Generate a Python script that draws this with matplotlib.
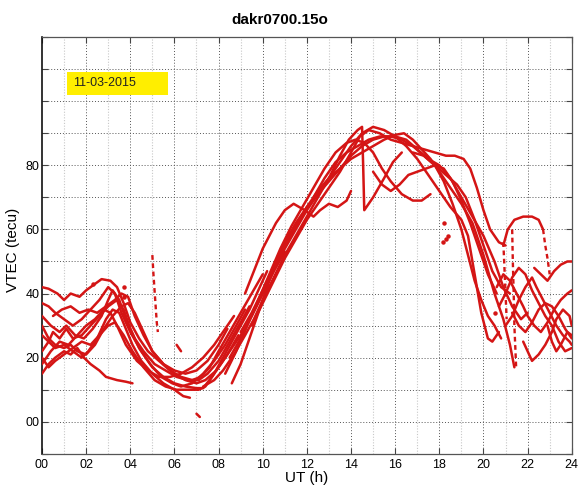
import matplotlib
matplotlib.use("Agg")
import matplotlib.pyplot as plt
from matplotlib.patches import Rectangle

plt.rcParams['font.family'] = ['Liberation Sans', 'DejaVu Sans']

# Station file and observation date
station_file = "dakr0700.15o"
obs_date = "11-03-2015"

# x / y tick labels
hour_ticks = list(range(0, 25, 2))
hour_labels = ["%02d" % h for h in hour_ticks]
tec_ticks = [0, 20, 40, 60, 80]
tec_labels = ["00", "20", "40", "60", "80"]

# VTEC arcs per satellite pass: (UT hour, VTEC in TECU)
arc_night_a = [(0, 42), (0.3, 41.5), (0.7, 40), (1.0, 38), (1.3, 40), (1.7, 39), (2.0, 41), (2.4, 43),
               (2.7, 44.5), (3.1, 44), (3.4, 42), (3.7, 37), (4.0, 31), (4.4, 26), (4.8, 22), (5.3, 19),
               (5.8, 16), (6.3, 14), (6.8, 13), (7.2, 14), (7.6, 17), (8.0, 22), (8.5, 28), (9.0, 34),
               (9.5, 40), (10.0, 46)]
arc_night_b = [(0, 37), (0.3, 36), (0.6, 34), (1.0, 32), (1.4, 30), (1.8, 32), (2.2, 35), (2.6, 38),
               (3.0, 42), (3.3, 40), (3.6, 34), (4.0, 28), (4.5, 22), (5.0, 17), (5.5, 14), (6.0, 12),
               (6.5, 11), (7.0, 10.5), (7.3, 10.5), (7.7, 14), (8.1, 18), (8.6, 23), (9.0, 27), (9.5, 33),
               (10.0, 40), (10.5, 47), (11.0, 53)]
arc_night_c = [(0, 33), (0.4, 30), (0.8, 28), (1.1, 30), (1.5, 27), (1.9, 26), (2.3, 29), (2.7, 33),
               (3.0, 38), (3.2, 41), (3.5, 38), (3.8, 32), (4.2, 26), (4.6, 22), (5.1, 18), (5.6, 16),
               (6.1, 14), (6.6, 13), (7.1, 13), (7.5, 15), (8.0, 19), (8.5, 25), (9.0, 31), (9.4, 36)]
arc_night_d = [(0, 27), (0.3, 25), (0.5, 28), (0.8, 26), (1.1, 29), (1.4, 26), (1.8, 27), (2.2, 30),
               (2.6, 33), (3.0, 36), (3.4, 38), (3.7, 35), (4.0, 29), (4.4, 23), (4.9, 18), (5.4, 14),
               (5.9, 12), (6.3, 11), (6.8, 12), (7.3, 15), (7.8, 19), (8.3, 24), (8.8, 30), (9.2, 35)]
arc_night_e = [(0, 22), (0.3, 25), (0.6, 23), (1.0, 24), (1.4, 22), (1.8, 20), (2.1, 22), (2.5, 26),
               (2.9, 32), (3.2, 35), (3.5, 34), (3.8, 29), (4.1, 24), (4.5, 19), (5.0, 15), (5.5, 12),
               (6.0, 10), (6.4, 8), (6.7, 7.5)]
arc_night_f = [(0, 18), (0.4, 22), (0.8, 25), (1.2, 24), (1.6, 27), (2.0, 30), (2.4, 32), (2.8, 35),
               (3.1, 34), (3.4, 30), (3.8, 24), (4.3, 19), (4.8, 16), (5.3, 14), (5.8, 14), (6.3, 15),
               (6.8, 17), (7.3, 20), (7.8, 24), (8.3, 29), (8.7, 33)]
arc_night_g = [(0, 15), (0.3, 18), (0.6, 20), (1.0, 22), (1.3, 21), (1.6, 23), (1.9, 20), (2.2, 18),
               (2.6, 16), (2.9, 14), (3.4, 13), (3.8, 12.5), (4.1, 12)]
arc_night_h = [(0, 30), (0.3, 26), (0.6, 24), (1.0, 23), (1.3, 24), (1.6, 22), (2.0, 21), (2.4, 24),
               (2.8, 29), (3.2, 33), (3.6, 36), (3.9, 37), (4.2, 34), (4.6, 28), (5.0, 22), (5.5, 18),
               (6.0, 15), (6.5, 13), (7.0, 12), (7.4, 13), (7.9, 16), (8.4, 21), (8.9, 27)]
arc_night_i = [(0.5, 33), (0.9, 35), (1.3, 36), (1.7, 34), (2.1, 35), (2.5, 34), (2.9, 36), (3.3, 38),
               (3.6, 40), (3.9, 39), (4.2, 33), (4.6, 27), (5.0, 22), (5.5, 18), (6.0, 16), (6.5, 15),
               (7.0, 16), (7.5, 19), (8.0, 24), (8.4, 29)]
arc_night_j = [(0, 20), (0.3, 17), (0.6, 19), (1.0, 21), (1.4, 23), (1.8, 25), (2.2, 24), (2.6, 27),
               (3.0, 30), (3.3, 31), (3.7, 27), (4.1, 22), (4.6, 17), (5.1, 13), (5.6, 11), (6.1, 10),
               (6.6, 10), (7.1, 10), (7.4, 11), (7.8, 15), (8.2, 20), (8.6, 25), (9.0, 30), (9.4, 35),
               (9.8, 41), (10.2, 47)]

arc_day_a = [(8.3, 15), (8.8, 22), (9.3, 30), (9.8, 38), (10.3, 46), (10.8, 54), (11.3, 61), (11.8, 67),
             (12.3, 73), (12.8, 79), (13.3, 84), (13.8, 87), (14.2, 88), (14.6, 87), (15.0, 84), (15.4, 79),
             (15.8, 75), (16.3, 71), (16.8, 69), (17.2, 69), (17.6, 71)]
arc_day_b = [(7.3, 11), (7.8, 13), (8.2, 16), (8.7, 21), (9.2, 27), (9.6, 32), (10.0, 38), (10.5, 45),
             (11.0, 52), (11.5, 58), (12.0, 64), (12.5, 70), (13.0, 76), (13.5, 83), (13.9, 88), (14.3, 91),
             (14.5, 92), (14.55, 80), (14.6, 66), (15.0, 70), (15.5, 76), (15.9, 81), (16.3, 84)]
arc_day_c = [(8.5, 20), (9.0, 26), (9.5, 33), (10.0, 40), (10.5, 47), (11.0, 54), (11.5, 60), (12.0, 66),
             (12.5, 71), (13.0, 76), (13.5, 81), (14.0, 86), (14.5, 90), (15.0, 92), (15.5, 91), (16.0, 89),
             (16.5, 86), (17.0, 82), (17.5, 77), (18.0, 72), (18.5, 67), (19.0, 63), (19.3, 58), (19.6, 46),
             (19.9, 34), (20.2, 26), (20.4, 25), (20.7, 28)]
arc_day_d = [(9.0, 28), (9.5, 34), (10.0, 41), (10.5, 48), (11.0, 55), (11.5, 61), (12.0, 67), (12.5, 72),
             (13.0, 76), (13.5, 79), (14.0, 82), (14.5, 84), (15.0, 86), (15.5, 88), (16.0, 89.5), (16.4, 90),
             (16.8, 88), (17.2, 85), (17.6, 82), (18.0, 78), (18.5, 73), (19.0, 68), (19.5, 62), (20.0, 52),
             (20.5, 40), (20.9, 32), (21.2, 24), (21.4, 17)]
arc_day_e = [(9.5, 30), (10.0, 37), (10.5, 44), (11.0, 51), (11.5, 57), (12.0, 63), (12.5, 68), (13.0, 73),
             (13.5, 78), (14.0, 84), (14.4, 89), (14.8, 91), (15.3, 90), (15.8, 88), (16.3, 87), (16.8, 86),
             (17.3, 85), (17.8, 84), (18.3, 83), (18.7, 83), (19.1, 82), (19.4, 79), (19.7, 73), (20.0, 66),
             (20.3, 60), (20.7, 56), (21.0, 55)]
arc_day_f = [(8.6, 12), (9.0, 18), (9.4, 26), (9.8, 34), (10.2, 42), (10.6, 50), (11.0, 56), (11.5, 62),
             (12.0, 67), (12.5, 71), (13.0, 75), (13.5, 79), (14.0, 83), (14.5, 86), (15.0, 88), (15.5, 89),
             (16.0, 89), (16.5, 88), (17.0, 85), (17.5, 82), (18.0, 80), (18.5, 76), (19.0, 70), (19.5, 64),
             (20.0, 58), (20.5, 50), (20.9, 42), (21.3, 36), (21.7, 32), (22.0, 34)]
arc_day_g = [(9.2, 40), (9.6, 47), (10.0, 54), (10.3, 58), (10.6, 62), (11.0, 66), (11.4, 68), (11.9, 66),
             (12.3, 64), (12.6, 66), (13.0, 68), (13.4, 67), (13.8, 69), (14.0, 72)]
arc_day_h = [(12.3, 70), (12.8, 76), (13.3, 81), (13.8, 84), (14.3, 86), (14.8, 88), (15.3, 89), (15.8, 89),
             (16.3, 88), (16.8, 86), (17.3, 83), (17.8, 80), (18.3, 77), (18.8, 74), (19.2, 70), (19.6, 63),
             (20.0, 55), (20.4, 47), (20.8, 42), (21.2, 40)]
arc_day_i = [(15.0, 78), (15.4, 74), (15.8, 72), (16.2, 74), (16.6, 77), (17.0, 78), (17.4, 79), (17.8, 80),
             (18.2, 79), (18.6, 75), (19.0, 69), (19.4, 62), (19.8, 54), (20.2, 46), (20.6, 40)]
arc_day_j = [(16.8, 84), (17.3, 83), (17.8, 80), (18.2, 75), (18.6, 68), (19.0, 60), (19.3, 52), (19.6, 44),
             (19.9, 38), (20.2, 33), (20.5, 30), (20.8, 26)]

arc_eve_a = [(20.6, 42), (20.9, 46), (21.2, 44), (21.5, 40), (21.8, 36), (22.0, 33), (22.3, 30), (22.6, 28),
             (22.9, 31), (23.2, 35), (23.5, 38), (23.8, 40), (24.0, 41)]
arc_eve_b = [(21.0, 30), (21.3, 33), (21.6, 38), (21.9, 42), (22.2, 45), (22.4, 42), (22.7, 38), (23.0, 34),
             (23.3, 30), (23.6, 27), (23.9, 25), (24.0, 24)]
arc_eve_c = [(21.8, 25), (22.0, 22), (22.2, 19), (22.5, 21), (22.8, 24), (23.1, 28), (23.3, 32), (23.6, 35),
             (23.9, 33), (24.0, 30)]
arc_eve_d = [(22.3, 48), (22.6, 46), (22.9, 44), (23.2, 47), (23.5, 49), (23.8, 50), (24.0, 50)]
arc_eve_e = [(20.9, 55), (21.1, 60), (21.4, 63), (21.8, 64), (22.2, 64), (22.5, 63), (22.7, 60)]
arc_eve_f = [(21.3, 34), (21.6, 30), (21.9, 28), (22.2, 31), (22.5, 35), (22.8, 37), (23.1, 36), (23.4, 33),
             (23.7, 29), (24.0, 26)]
arc_eve_g = [(20.7, 36), (21.0, 40), (21.3, 45), (21.6, 48), (21.9, 46), (22.2, 41), (22.5, 37), (22.8, 33),
             (23.1, 30), (23.4, 25), (23.7, 22), (24.0, 23)]
arc_eve_h = [(22.9, 30), (23.1, 25), (23.3, 22), (23.5, 24), (23.8, 28), (24.0, 27)]

# Sparse / dotted fragments
frag_dash = [(5.0, 52), (5.05, 46), (5.1, 41), (5.15, 36), (5.2, 31), (5.25, 28)]
frag_tail = [(22.7, 60), (22.8, 55), (22.9, 51), (23.0, 46)]
frag_drop = [(21.3, 60), (21.33, 50), (21.37, 40), (21.4, 30), (21.45, 22), (21.48, 17)]
frag_drop2 = [(20.9, 56), (20.95, 48), (21.0, 40), (21.05, 32)]
frag_low = [(7.0, 2.5), (7.15, 1.5)]
frag_hook = [(6.1, 24), (6.2, 23), (6.3, 22)]
dots_t = [18.2, 18.3, 18.4, 18.15, 2.3, 3.7, 3.72, 20.5]
dots_v = [62, 57, 58, 56, 43, 42, 39, 34]

solid_arcs = [arc_night_a, arc_night_b, arc_night_c, arc_night_d, arc_night_e, arc_night_f,
              arc_night_g, arc_night_h, arc_night_i, arc_night_j,
              arc_day_a, arc_day_b, arc_day_c, arc_day_d, arc_day_e, arc_day_f, arc_day_g,
              arc_day_h, arc_day_i, arc_day_j,
              arc_eve_a, arc_eve_b, arc_eve_c, arc_eve_d, arc_eve_e, arc_eve_f, arc_eve_g, arc_eve_h,
              frag_low, frag_hook]
dashed_arcs = [frag_dash, frag_tail, frag_drop, frag_drop2]

fig = plt.figure(figsize=(5.79, 4.88), dpi=100)
ax = fig.add_axes([0.0725, 0.070, 0.915, 0.854])

# grid: dark dotted at even hours / every 10 TECU, light dotted at odd hours
for h in range(1, 24, 2):
    ax.axvline(h, color="#c8c8c8", lw=0.8, ls=(0, (1, 1.5)), zorder=0)
for h in range(2, 24, 2):
    ax.axvline(h, color="#555555", lw=0.7, ls=(0, (1, 2)), zorder=0)
for v in range(0, 120, 10):
    ax.axhline(v, color="#555555", lw=0.7, ls=(0, (1, 2)), zorder=0)

red = "#d41515"
for arc in solid_arcs:
    t = [p[0] for p in arc]
    v = [p[1] for p in arc]
    ax.plot(t, v, color=red, lw=1.8, solid_joinstyle="round", solid_capstyle="round", zorder=3)
for arc in dashed_arcs:
    t = [p[0] for p in arc]
    v = [p[1] for p in arc]
    ax.plot(t, v, color=red, lw=1.7, ls=(0, (2, 1.5)), zorder=3)
ax.plot(dots_t, dots_v, ls="none", marker="o", ms=2.2, color=red, zorder=3)

ax.set_xlim(0, 24)
ax.set_ylim(-10, 120)
ax.set_xticks(hour_ticks)
ax.set_xticklabels(hour_labels)
ax.set_yticks(list(range(-10, 121, 10)))
ax.set_yticklabels([tec_labels[tec_ticks.index(v)] if v in tec_ticks else "" for v in range(-10, 121, 10)])
ax.tick_params(direction="in", length=4, width=0.8, labelsize=9, top=True, right=True,
               color="#444444", pad=4)
ax.tick_params(axis="y", pad=2)
for s in ax.spines.values():
    s.set_color("#555555")
    s.set_linewidth(0.9)
ax.spines["left"].set_color("#111111")
ax.spines["left"].set_linewidth(1.2)

ax.set_xlabel("UT (h)", fontsize=11, labelpad=0)
ax.set_ylabel("VTEC (tecu)", fontsize=11)
ax.yaxis.set_label_coords(-0.042, 0.49)
fig.text(280 / 579, 1 - 20 / 488, station_file, fontsize=11, fontweight="bold", ha="center", va="center")

# date tag
ax.add_patch(Rectangle((1.13, 102), 4.6, 7.2, facecolor="#ffee00", edgecolor="none", zorder=4))
ax.text(1.4, 105.6, obs_date, fontsize=9, va="center", ha="left", color="#222222", zorder=5)

fig.savefig("out.png", dpi=100)
